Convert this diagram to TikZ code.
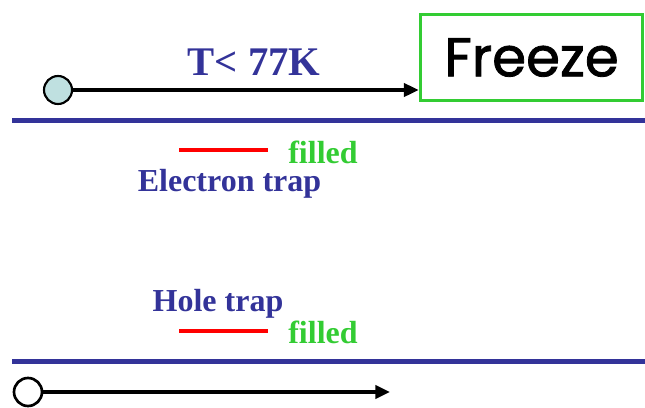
\documentclass[tikz,border=0pt]{standalone}
\usepackage{fontspec}
\setmainfont{Liberation Serif}
\newfontfamily\freezefont[FakeBold=1.5]{Poppins}
\usetikzlibrary{arrows.meta}
\definecolor{bandblue}{HTML}{333399}
\definecolor{fillgreen}{HTML}{33CC33}
\definecolor{dotcyan}{HTML}{BFE0E0}
\begin{document}
\begin{tikzpicture}[x=0.75pt,y=-0.75pt,
  band/.style={bandblue,line width=3.75pt},
  trapline/.style={red,line width=2.4pt},
  lbl/.style={text=bandblue,font=\fontsize{24}{28}\selectfont\bfseries,inner sep=0pt},
  fil/.style={text=fillgreen,font=\fontsize{24}{28}\selectfont\bfseries,inner sep=0pt},
  carrier/.style={circle,draw=black,line width=1.6pt,minimum size=21pt,inner sep=0pt},
  move/.style={line width=2.4pt,-{Triangle[length=11pt,width=10pt]}}]
\useasboundingbox (0,0) rectangle (645,407);
% bands
\draw[band] (12,120) coordinate (cbl) -- (645,120) coordinate (cbr);
\draw[band] (12,361) coordinate (vbl) -- (645,361) coordinate (vbr);
% freeze box
\node[draw=fillgreen,line width=2.4pt,minimum width=167pt,minimum height=65pt,inner sep=0pt,
  font=\freezefont\fontsize{41}{45}\selectfont] (box) at (531.5,57.5) {Freeze};
% top electron
\node[carrier,fill=dotcyan] (e) at (58,90) {};
\draw[move] (e) -- (box.west|-e);
\node[lbl,font=\fontsize{30.5}{34}\selectfont\bfseries] (t) at (254,62) {T< 77K};
% traps
\draw[trapline] (179,150) coordinate (et1) -- (268,150) coordinate (et2);
\node[fil] (f1) at (323,152) {filled};
\node[lbl] (el) at (229.5,184) {Electron trap};
\node[lbl] (hl) at (218,304) {Hole trap};
\draw[trapline] (179,331) coordinate (ht1) -- (268,331) coordinate (ht2);
\node[fil] (f2) at (323,332) {filled};
% bottom hole
\node[carrier,fill=white,line width=2pt] (h) at (28,392) {};
\coordinate (hend) at (390,392);
\draw[move] (h) -- (hend);
\end{tikzpicture}
\end{document}
